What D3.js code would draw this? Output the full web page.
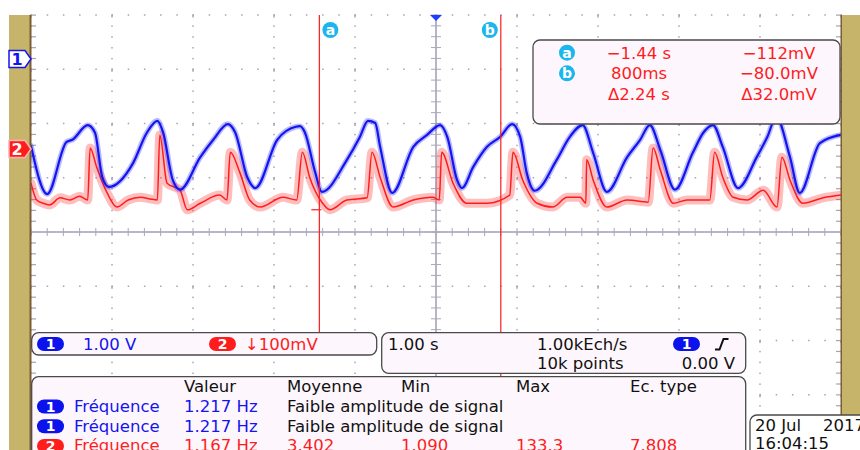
<!doctype html>
<html lang="fr">
<head>
  <meta charset="utf-8">
  <title>Oscilloscope</title>
  <style type="text/css">
    body{ margin:0; background:#fff; }
    text{ font-family:"DejaVu Sans", Verdana, sans-serif; font-size:16.5px; }
    path.trace{ fill:none; stroke-linejoin:round; stroke-linecap:round; }
  </style>
</head>
<body>
  <div id="vis"></div>
  <script src="https://cdn.jsdelivr.net/npm/d3@7"></script>
  <script type="text/javascript">

    // channel 1, seconds / volts (1.00 V/div)
    var ch1_time = [-5.00,-4.80,-4.56,-4.49,-4.30,-4.21,-4.12,-4.04,-3.74,-3.57,
      -3.44,-3.37,-3.25,-3.16,-2.91,-2.75,-2.57,-2.48,-2.33,-2.23,
      -1.96,-1.73,-1.68,-1.62,-1.49,-1.41,-1.10,-0.94,-0.84,-0.75,
      -0.69,-0.54,-0.28,-0.11,0.05,0.14,0.26,0.32,0.46,0.63,
      0.79,0.94,1.04,1.12,1.22,1.49,1.65,1.81,1.94,2.11,
      2.36,2.52,2.64,2.77,2.95,3.17,3.30,3.42,3.54,3.73,
      3.96,4.09,4.20,4.37,4.49,4.74,5.00];
    var ch1_volts = [-1.60,-2.49,-1.53,-1.49,-1.22,-1.36,-2.18,-2.36,-1.92,-1.36,
      -1.14,-1.35,-2.23,-2.41,-1.81,-1.49,-1.20,-1.35,-2.18,-2.38,
      -1.49,-1.25,-1.24,-1.35,-2.10,-2.45,-1.86,-1.44,-1.14,-1.18,
      -1.62,-2.47,-1.62,-1.40,-1.22,-1.44,-2.23,-2.38,-1.99,-1.62,
      -1.44,-1.20,-1.44,-2.10,-2.43,-1.86,-1.44,-1.22,-1.73,-2.45,
      -1.81,-1.49,-1.22,-1.68,-2.41,-1.73,-1.36,-1.22,-1.62,-2.38,
      -1.81,-1.44,-1.07,-1.81,-2.47,-1.55,-1.40];

    // channel 2, seconds / millivolts (100 mV/div)
    var ch2_time = [-5.00,-4.93,-4.85,-4.77,-4.64,-4.52,-4.40,-4.30,-4.27,-4.19,
      -4.06,-3.94,-3.80,-3.65,-3.53,-3.44,-3.41,-3.32,-3.16,-3.07,
      -2.91,-2.67,-2.58,-2.54,-2.42,-2.30,-2.17,-1.89,-1.72,-1.65,
      -1.56,-1.40,-1.31,-1.10,-0.85,-0.79,-0.69,-0.53,-0.28,-0.04,
      0.04,0.07,0.21,0.38,0.63,0.91,0.95,1.07,1.25,1.44,
      1.62,1.78,1.85,1.86,1.94,2.11,2.36,2.62,2.68,2.77,
      2.93,3.10,3.38,3.44,3.54,3.67,3.84,4.04,4.21,4.27,
      4.37,4.53,4.78,5.00];
    var ch2_mv = [-63,-94,-100,-103,-90,-94,-87,-94,2,-33,
      -81,-107,-94,-89,-92,-94,26,-63,-76,-112,
      -100,-85,-94,-6,-44,-94,-107,-89,-94,-6,
      -52,-100,-112,-94,-90,-6,-52,-107,-94,-89,
      -94,-6,-63,-100,-100,-85,-6,-57,-100,-107,
      -89,-89,-100,-20,-57,-107,-94,-98,2,-39,
      -100,-94,-94,-6,-52,-89,-94,-76,-107,-15,
      -57,-100,-90,-85];

    var cursor_names = ['a','b'];
    var cursor_times = [-1.44, 0.80];
    var cursor_mv = [-112, -80];
    var cursor_time_labels = ['\u22121.44 s', '800ms', '\u03942.24 s'];
    var cursor_mv_labels = ['\u2212112mV', '\u221280.0mV', '\u039432.0mV'];

    var meas_headers = ['Valeur','Moyenne','Min','Max','Ec. type'];
    var meas_channels = [1, 1, 2];
    var meas_names = ['Fr\u00e9quence','Fr\u00e9quence','Fr\u00e9quence'];
    var meas_values = [
      ['1.217 Hz','Faible amplitude de signal'],
      ['1.217 Hz','Faible amplitude de signal'],
      ['1.167 Hz','3.402','1.090','133.3','7.808']
    ];

    var blue = '#1414f0', red = '#ff1c1c', tan = '#c7b46b', edge = '#7d5d33',
      gridc = '#a4a4b6', boxFill = '#fdf7fd', boxLine = '#4a4a4a';

    var width = 860, height = 450;
    var ch1_offset = 3.19, ch2_offset = 1.53;   // divisions above centre

    var svg = d3.select('#vis').append('svg')
      .attr('width', width).attr('height', height)
      .style('display','block');

    var x = d3.scaleLinear().domain([-5,5]).range([31,841]);
    var dv = d3.scaleLinear().domain([-4,4]).range([449,15]);
    var y1 = function(v){ return dv(v/1.00 + ch1_offset); };
    var y2 = function(mv){ return dv(mv/100 + ch2_offset); };

    // graticule
    var grid = svg.append('g');
    var minorX = d3.range(-25,26).map(function(d){ return d/5; });
    var minorY = d3.range(-20,21).map(function(d){ return d/5; });
    var majorX = d3.range(-5,6), majorY = d3.range(-4,5);

    majorX.forEach(function(mx){
      grid.selectAll(null).data(minorY).enter().append('rect')
        .attr('x', x(mx)-0.75).attr('y', function(d){ return dv(d)-0.5; })
        .attr('width', 1.5).attr('height', function(d){ return Number.isInteger(d) ? 3 : 1.5; })
        .style('fill', gridc);
    });
    majorY.forEach(function(my){
      grid.selectAll(null).data(minorX).enter().append('rect')
        .attr('x', function(d){ return x(d)-0.5; }).attr('y', dv(my)-0.75)
        .attr('width', 1.5).attr('height', 1.5)
        .style('fill', gridc);
    });
    // edge ticks
    [x(-5), x(5)-5].forEach(function(ex){
      grid.selectAll(null).data(minorY).enter().append('rect')
        .attr('x', ex).attr('y', function(d){ return dv(d)-0.5; })
        .attr('width', 5).attr('height', 1.2)
        .style('fill', gridc);
    });

    // centre axes with ticks
    grid.append('line').attr('x1', x(0)).attr('x2', x(0)).attr('y1', dv(4)).attr('y2', dv(-4))
      .style('stroke','#b6b6c8').style('stroke-width',2);
    grid.append('line').attr('x1', x(-5)).attr('x2', x(5)).attr('y1', dv(0)).attr('y2', dv(0))
      .style('stroke','#b6b6c8').style('stroke-width',2);
    grid.selectAll(null).data(minorX).enter().append('line')
      .attr('x1', function(d){ return x(d); }).attr('x2', function(d){ return x(d); })
      .attr('y1', dv(0)-4).attr('y2', dv(0)+4)
      .style('stroke','#a8a8bc').style('stroke-width',1);
    grid.selectAll(null).data(minorY).enter().append('line')
      .attr('x1', x(0)-5).attr('x2', x(0)+5)
      .attr('y1', function(d){ return dv(d); }).attr('y2', function(d){ return dv(d); })
      .style('stroke','#a8a8bc').style('stroke-width',1);

    // traces: a wide pale stroke stands in for the sample noise band
    var line2 = d3.line().curve(d3.curveMonotoneX)
      .x(function(d,i){ return x(ch2_time[i]); }).y(function(d){ return y2(d); });
    var line1 = d3.line().curve(d3.curveMonotoneX)
      .x(function(d,i){ return x(ch1_time[i]); }).y(function(d){ return y1(d); });

    svg.append('path').attr('class','trace').attr('d', line2(ch2_mv))
      .style('stroke','rgba(255,40,40,0.3)').style('stroke-width',9);
    svg.append('path').attr('class','trace').attr('d', line2(ch2_mv))
      .style('stroke',red).style('stroke-width',1.5);

    svg.append('path').attr('class','trace').attr('d', line1(ch1_volts))
      .style('stroke','rgba(40,40,255,0.32)').style('stroke-width',5.5);
    svg.append('path').attr('class','trace').attr('d', line1(ch1_volts))
      .style('stroke',blue).style('stroke-width',2.2);

    // cursors
    svg.append('line').attr('x1', x(cursor_times[0])).attr('x2', x(cursor_times[0]))
      .attr('y1', 15).attr('y2', 333).style('stroke', red).style('stroke-width',1.2);
    svg.append('line').attr('x1', x(cursor_times[1])).attr('x2', x(cursor_times[1]))
      .attr('y1', 15).attr('y2', 449).style('stroke', red).style('stroke-width',1.2);
    svg.append('line').attr('x1', x(cursor_times[0])-8).attr('x2', x(cursor_times[0])+2)
      .attr('y1', y2(cursor_mv[0])).attr('y2', y2(cursor_mv[0]))
      .style('stroke', red).style('stroke-width',1.2);

    cursor_names.forEach(function(n,i){
      var cx = x(cursor_times[i]) + (i==0 ? 11 : -11);
      svg.append('circle').attr('cx', cx).attr('cy', 30).attr('r', 8).style('fill','#1cb6ee');
      svg.append('text').attr('x', cx).attr('y', 35).attr('text-anchor','middle')
        .style('fill','#fff').style('font-weight','bold').style('font-size','14px').text(n);
    });

    // trigger position marker
    svg.append('path')
      .attr('d','M'+(x(0)-6)+',15L'+(x(0)+6)+',15L'+x(0)+',21Z')
      .style('fill','#1e3cff');

    // side bars
    svg.append('rect').attr('x',9).attr('y',15).attr('width',22).attr('height',435).style('fill',tan);
    svg.append('rect').attr('x',29.5).attr('y',15).attr('width',2).attr('height',435).style('fill',edge);
    svg.append('rect').attr('x',841).attr('y',15).attr('width',19).attr('height',435).style('fill',tan);
    svg.append('rect').attr('x',840.5).attr('y',15).attr('width',1.5).attr('height',435).style('fill',edge);

    // channel ground markers
    function marker(yc, label, fill, stroke, txt){
      svg.append('path')
        .attr('d','M9,'+(yc-8.5)+'L25,'+(yc-8.5)+'L31,'+yc+'L25,'+(yc+8.5)+'L9,'+(yc+8.5)+'Z')
        .style('fill',fill).style('stroke',stroke).style('stroke-width',1.5);
      svg.append('text').attr('x',17).attr('y',yc+6).attr('text-anchor','middle')
        .style('fill',txt).style('font-weight','bold').style('font-size','16px').text(label);
    }
    marker(y1(0), '1', '#fff', blue, blue);
    marker(y2(0), '2', red, '#ffb0b0', '#fff');

    function box(bx, by, bw, bh, fill){
      svg.append('rect').attr('x',bx).attr('y',by).attr('width',bw).attr('height',bh)
        .attr('rx',7).style('fill',fill || boxFill).style('stroke',boxLine).style('stroke-width',1.3);
    }
    function pill(px, py, n){
      svg.append('rect').attr('x',px).attr('y',py).attr('width',27).attr('height',14).attr('rx',7)
        .style('fill', n==1 ? '#0c12ec' : red);
      svg.append('text').attr('x',px+13.5).attr('y',py+12).attr('text-anchor','middle')
        .style('fill','#fff').style('font-weight','bold').style('font-size','14px').text(n);
    }
    function label(tx, ty, str, col, anchor){
      svg.append('text').attr('x',tx).attr('y',ty).attr('text-anchor',anchor || 'start')
        .style('fill',col || '#111').text(str);
    }

    // cursor readout
    box(533, 40, 307, 84);
    cursor_names.forEach(function(n,i){
      var cy = 52.7 + i*20.6;
      svg.append('circle').attr('cx',567).attr('cy',cy).attr('r',8).style('fill','#1cb6ee');
      svg.append('text').attr('x',567).attr('y',cy+5).attr('text-anchor','middle')
        .style('fill','#fff').style('font-weight','bold').style('font-size','14px').text(n);
    });
    cursor_time_labels.forEach(function(s,i){ label(639, 58.5 + i*20.6, s, red, 'middle'); });
    cursor_mv_labels.forEach(function(s,i){ label(779, 58.5 + i*20.6, s, red, 'middle'); });

    // vertical settings
    box(31.7, 332.7, 345, 22.3);
    pill(37, 337, 1);
    label(83, 350, '1.00 V', blue);
    pill(209, 337, 2);
    label(245, 350, '\u2193100mV', red);

    // timebase
    box(381.7, 332.7, 364, 40.6);
    label(388, 350, '1.00 s');
    label(537, 350, '1.00kEch/s');
    label(537, 369, '10k points');
    pill(673, 337, 1);
    svg.append('path').attr('d','M715,349.5L719.5,349.5L723.5,339L728.5,339')
      .style('fill','none').style('stroke','#111').style('stroke-width',2);
    label(735, 369, '0.00 V', '#111', 'end');

    // measurements (last row runs off the bottom of the screen, as on the scope)
    box(31.7, 376.7, 714, 110);
    var colX = [184, 287, 401, 516, 630];
    meas_headers.forEach(function(h,i){ label(colX[i], 392, h); });
    meas_names.forEach(function(nm,r){
      var by = 412 + r*19.7;
      var col = meas_channels[r]==1 ? blue : red;
      pill(37, by-12.5, meas_channels[r]);
      label(74, by, nm, col);
      meas_values[r].forEach(function(v,c){
        var vc = (r < 2 && c > 0) ? '#111' : col;
        label(colX[c], by, v, vc);
      });
    });

    // date
    box(750, 415, 130, 60, '#fff');
    label(755, 431, '20 Jul');
    label(823, 431, '2017');
    label(755, 449, '16:04:15');

  </script>
</body>
</html>
